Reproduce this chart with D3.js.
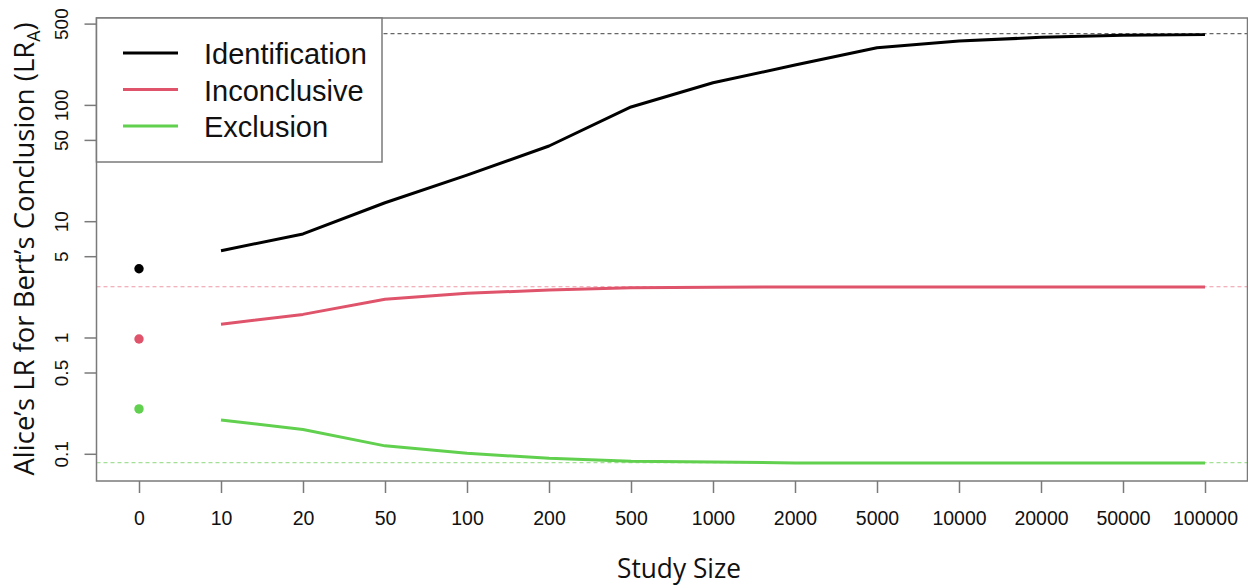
<!DOCTYPE html>
<html>
<head>
<meta charset="utf-8">
<script src="https://cdn.jsdelivr.net/npm/d3@7"></script>
<style>
  html, body { margin: 0; padding: 0; background: #fff; }
  svg { display: block; }
</style>
</head>
<body>
<svg id="chart" width="1248" height="585"></svg>
<script>
// ---- data ----
const studySizes = ["0", "10", "20", "50", "100", "200", "500", "1000", "2000", "5000", "10000", "20000", "50000", "100000"];
const lineSizes = ["10", "20", "50", "100", "200", "500", "1000", "2000", "5000", "10000", "20000", "50000", "100000"];
const identification = [5.58, 7.77, 14.4, 24.9, 44.3, 96, 155, 220, 310, 354, 381, 398, 402];
const inconclusive  = [1.30, 1.58, 2.13, 2.40, 2.56, 2.68, 2.70, 2.72, 2.72, 2.72, 2.72, 2.72, 2.72];
const exclusion     = [0.195, 0.162, 0.117, 0.101, 0.0915, 0.0862, 0.085, 0.0834, 0.0834, 0.0834, 0.0834, 0.0834, 0.0834];
const seriesNames = ["Identification", "Inconclusive", "Exclusion"];
const priorLR = [3.9, 0.97, 0.243];          // points at study size 0
const limitLR = [410, 2.73, 0.0838];         // dashed reference lines
const yTickValues = [0.1, 0.5, 1, 5, 10, 50, 100, 500];
const colors = ["#000000", "#DF536B", "#61D04F"];
const dashColors = ["#666666", "#EE99A8", "#A3E096"];

// ---- layout ----
const box = { left: 96.5, right: 1247.5, top: 18, bottom: 481 };
const svg = d3.select("#chart");

const x = d3.scalePoint().domain(studySizes).range([139, 1205]);
const y = d3.scaleLog().domain([0.05835, 558.7]).range([box.bottom, box.top]);

const allSeries = [identification, inconclusive, exclusion];

// dashed reference lines
svg.append("g").selectAll("line").data(limitLR).join("line")
  .attr("x1", box.left).attr("x2", box.right)
  .attr("y1", d => y(d)).attr("y2", d => y(d))
  .attr("stroke", (d, i) => dashColors[i])
  .attr("stroke-width", 1.2)
  .attr("stroke-dasharray", "4,3");

// lines
const line = d3.line().x((d, i) => x(lineSizes[i])).y(d => y(d));
svg.append("g").selectAll("path").data(allSeries).join("path")
  .attr("d", d => line(d))
  .attr("fill", "none")
  .attr("stroke", (d, i) => colors[i])
  .attr("stroke-width", 3)
  .attr("stroke-linejoin", "round");

// points at 0
svg.append("g").selectAll("circle").data(priorLR).join("circle")
  .attr("cx", x("0")).attr("cy", d => y(d)).attr("r", 4.7)
  .attr("fill", (d, i) => colors[i]);

// axes
const axisColor = "#7a7a7a";
const xAxis = svg.append("g").attr("transform", `translate(0,${box.bottom})`)
  .call(d3.axisBottom(x).tickSize(12).tickPadding(0));
xAxis.select(".domain").remove();
xAxis.selectAll(".tick line").attr("stroke", axisColor).attr("stroke-width", 1.5);
xAxis.selectAll(".tick text").attr("y", 44).attr("dy", 0)
  .attr("font-family", "Liberation Sans, Arial, sans-serif").attr("font-size", 19.5).attr("fill", "#111");

const yAxis = svg.append("g").attr("transform", `translate(${box.left},0)`)
  .call(d3.axisLeft(y).tickValues(yTickValues).tickSize(12).tickFormat(d => String(d)));
yAxis.select(".domain").remove();
yAxis.selectAll(".tick line").attr("stroke", axisColor).attr("stroke-width", 1.5);
yAxis.selectAll(".tick text")
  .attr("x", null).attr("dy", null)
  .attr("text-anchor", "middle")
  .attr("transform", "translate(-28.5,0) rotate(-90)")
  .attr("font-family", "Liberation Sans, Arial, sans-serif").attr("font-size", 19).attr("fill", "#111");

// plot box
svg.append("rect")
  .attr("x", box.left).attr("y", box.top)
  .attr("width", box.right - box.left).attr("height", box.bottom - box.top)
  .attr("fill", "none").attr("stroke", axisColor).attr("stroke-width", 1.5);

// legend
const lg = svg.append("g");
lg.append("rect").attr("x", box.left).attr("y", box.top).attr("width", 382 - box.left).attr("height", 162 - box.top)
  .attr("fill", "#fff").attr("stroke", axisColor).attr("stroke-width", 1.5);
seriesNames.forEach((name, i) => {
  const cy = 53 + i * 36.5;
  lg.append("line").attr("x1", 123).attr("x2", 178).attr("y1", cy).attr("y2", cy)
    .attr("stroke", colors[i]).attr("stroke-width", 3);
  lg.append("text").attr("x", 204).attr("y", cy + 11.3).text(name)
    .attr("font-family", "Liberation Sans, Arial, sans-serif").attr("font-size", 29).attr("fill", "#111");
});

// axis titles
svg.append("text").attr("x", 679).attr("y", 578).attr("text-anchor", "middle")
  .attr("font-family", "Open Sans, sans-serif").attr("font-size", 28)
  .attr("textLength", 124).attr("lengthAdjust", "spacingAndGlyphs")
  .attr("fill", "#111").text("Study Size");

const yt = svg.append("text")
  .attr("transform", "translate(33.5,249) rotate(-90)")
  .attr("text-anchor", "middle")
  .attr("font-family", "Open Sans, sans-serif").attr("font-size", 28)
  .attr("fill", "#111");
yt.append("tspan").text("Alice’s LR for Bert’s Conclusion (LR");
yt.append("tspan").attr("font-size", 18).attr("dy", 6).text("A");
yt.append("tspan").attr("dy", -6).text(")");
yt.attr("textLength", 453).attr("lengthAdjust", "spacingAndGlyphs");
</script>
</body>
</html>
